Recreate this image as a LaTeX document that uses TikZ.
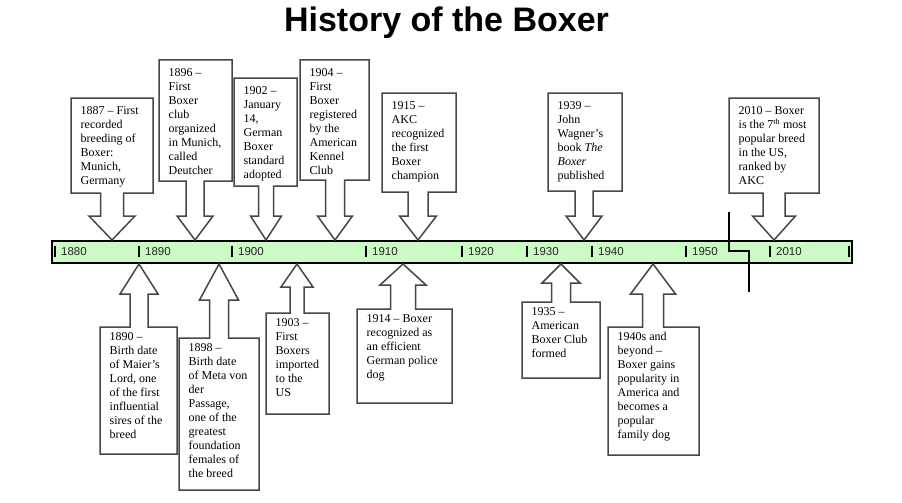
\documentclass[tikz,border=0pt]{standalone}
\usepackage{fontspec}
\setmainfont{Liberation Serif}
\newfontfamily\barfont{Liberation Sans}
\definecolor{bargreen}{RGB}{204,250,196}
\definecolor{noteline}{RGB}{70,70,70}

\begin{document}
\begin{tikzpicture}[x=1pt,y=-1pt,
  note/.style={draw=noteline,fill=white,line width=1.5pt},
  notetext/.style={anchor=north west,inner sep=0pt,align=left,font=\fontsize{12}{14}\selectfont},
  decade/.style={anchor=west,inner sep=0pt,text=black!85,font=\barfont\fontsize{11.5}{13}\selectfont},
  tick/.style={line width=1.2pt},
  bar/.style={draw,fill=bargreen,line width=1.3pt,inner sep=0pt}]
\useasboundingbox (0,0) rectangle (902,503);
\node[anchor=base,font=\barfont\bfseries\fontsize{34}{40}\selectfont] (title) at (446.5,32) {History of the Boxer};

% timeline
\node[bar,minimum width=800,minimum height=22] (line) at (452,252) {};

% events above the line
\foreach \yr/\lft/\rgt/\tp/\bt/\tx/\sw/\hw/\txt in {
  1887/71/153/98/193/112/11.5/23/{1887 – First\\recorded\\breeding of\\Boxer:\\Munich,\\Germany},
  1896/159/232/60/181/195/9/18/{1896 –\\First\\Boxer\\club\\organized\\in Munich,\\called\\Deutcher},
  1902/234/297/78/186/266/7.5/15.5/{1902 –\\January\\14,\\German\\Boxer\\standard\\adopted},
  1904/300/369/60/180/335/9.5/17.5/{1904 –\\First\\Boxer\\registered\\by the\\American\\Kennel\\Club},
  1915/382/456/93/192/418/10/18.5/{1915 –\\AKC\\recognized\\the first\\Boxer\\champion},
  1939/548/622/93/191/584/9/18/{1939 –\\John\\Wagner’s\\book \textit{The}\\\textit{Boxer}\\published},
  2010/729/819/98/193/774/11/21.5/{2010 – Boxer\\is the 7\textsuperscript{th} most\\popular breed\\in the US,\\ranked by\\AKC}}
{
  \draw[note] (\lft,\tp) -- (\rgt,\tp) -- (\rgt,\bt) -- (\tx+\sw,\bt) -- (\tx+\sw,216)
    -- (\tx+\hw,216) -- (\tx,240) -- (\tx-\hw,216) -- (\tx-\sw,216) -- (\tx-\sw,\bt)
    -- (\lft,\bt) -- cycle;
  \node[notetext] (e\yr) at (\lft+9.5,\tp+8.5) {\txt};
}

% events below the line
\foreach \yr/\lft/\rgt/\tp/\bt/\tx/\sw/\hw/\hb/\txt in {
  1890/100/177/327/454/139/9/19/294/{1890 –\\Birth date\\of Maier’s\\Lord, one\\of the first\\influential\\sires of the\\breed},
  1898/179/259/338/490/219/9.5/19.5/300/{1898 –\\Birth date\\of Meta von\\der\\Passage,\\one of the\\greatest\\foundation\\females of\\the breed},
  1903/266/329/313/414/297/7/16/287/{1903 –\\First\\Boxers\\imported\\to the\\US},
  1914/357/452/309/403/403/12.5/23/285/{1914 – Boxer\\recognized as\\an efficient\\German police\\dog},
  1935/522/600/302/378/561/9.5/19/283/{1935 –\\American\\Boxer Club\\formed},
  1940/608/699/327/455/653/10.5/22.5/294/{1940s and\\beyond –\\Boxer gains\\popularity in\\America and\\becomes a\\popular\\family dog}}
{
  \draw[note] (\lft,\bt) -- (\rgt,\bt) -- (\rgt,\tp) -- (\tx+\sw,\tp) -- (\tx+\sw,\hb)
    -- (\tx+\hw,\hb) -- (\tx,264) -- (\tx-\hw,\hb) -- (\tx-\sw,\hb) -- (\tx-\sw,\tp)
    -- (\lft,\tp) -- cycle;
  \node[notetext] (e\yr) at (\lft+9.5,\tp+5) {\txt};
}

% decades
\foreach \tx/\yr in {55/1880,139/1890,232/1900,366/1910,462/1920,527/1930,592/1940,686/1950,770/2010}
{
  \draw[tick] (\tx,245.5) -- (\tx,256.5);
  \node[decade] (d\yr) at (\tx+6,252) {\yr};
}
\draw[tick] (849,245.5) -- (849,256.5);

% break in the line
\draw[line width=2pt] (729,212) -- (729,251) -- (749,251) -- (749,292);
\end{tikzpicture}
\end{document}
